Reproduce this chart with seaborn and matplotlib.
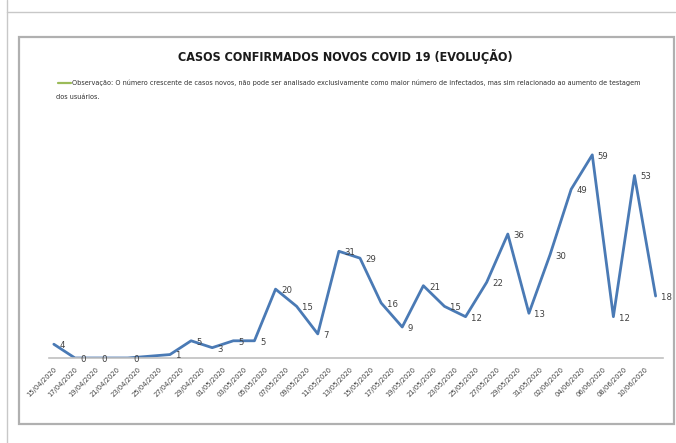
import pandas as pd
import numpy as np
import matplotlib.pyplot as plt
from matplotlib.lines import Line2D
from matplotlib.patches import Rectangle
import seaborn as sns

# dados
datas = ["15/04/2020", "17/04/2020", "19/04/2020", "22/04/2020", "26/04/2020",
         "28/04/2020", "30/04/2020", "02/05/2020", "04/05/2020", "06/05/2020",
         "08/05/2020", "10/05/2020", "12/05/2020", "14/05/2020", "16/05/2020",
         "18/05/2020", "20/05/2020", "22/05/2020", "24/05/2020", "26/05/2020",
         "28/05/2020", "30/05/2020", "01/06/2020", "03/06/2020", "05/06/2020",
         "07/06/2020", "09/06/2020", "11/06/2020"]
casos = [4, 0, 0, 0, 1, 5, 3, 5, 5, 20, 15, 7, 31, 29, 16, 9, 21, 15, 12, 22,
         36, 13, 30, 49, 59, 12, 53, 18]

titulo = "CASOS CONFIRMADOS NOVOS COVID 19 (EVOLUÇÃO)"
obs_1 = ("Observação: O número crescente de casos novos, não pode ser analisado exclusivamente "
         "como maior número de infectados, mas sim relacionado ao aumento de testagem")
obs_2 = "dos usuários."

data = pd.DataFrame({"data": pd.to_datetime(datas, format="%d/%m/%Y"), "casos": casos})

sns.set_style("white")
plt.rcParams['font.family'] = ['DejaVu Sans']
plt.rcParams['font.stretch'] = 'condensed'

W, H = 676, 443
fig = plt.figure(figsize=(W / 100, H / 100), dpi=100)

# molduras
fig.add_artist(Line2D([7 / W, 7 / W], [1, 1 - 12 / H], color="#c8c8c8", lw=1))
fig.add_artist(Line2D([7 / W, 675 / W], [1 - 12 / H, 1 - 12 / H], color="#c8c8c8", lw=1))
fig.add_artist(Line2D([7 / W, 7 / W], [1 - 12 / H, 0], color="#c8c8c8", lw=1))
fig.add_artist(Rectangle((19 / W, 1 - 424 / H), 655 / W, 387 / H, fill=False,
                         edgecolor="#b0b0b0", lw=1.6))

ax = fig.add_axes([49 / W, 1 - 358 / H, (663 - 49) / W, (358 - 117) / H])
sns.lineplot(data=data, x="data", y="casos", ax=ax, color="#4a7ab5", lw=2.0)

inicio = data["data"].iloc[0]
ax.set_xlim(inicio - pd.Timedelta(hours=11), inicio + pd.Timedelta(days=57.7))
ax.set_ylim(0, 70)

ticks = pd.date_range(inicio, "2020-06-10", freq="2D")
ax.set_xticks(ticks)
ax.set_xticklabels([t.strftime("%d/%m/%Y") for t in ticks], rotation=45,
                   ha="right", va="top", rotation_mode="anchor", fontsize=5.4, color="#404040")
ax.tick_params(axis="x", length=0, pad=6)
ax.set_yticks([])
ax.set_xlabel("")
ax.set_ylabel("")
for s in ["top", "left", "right"]:
    ax.spines[s].set_visible(False)
ax.spines["bottom"].set_color("#c0c0c0")
ax.spines["bottom"].set_linewidth(1.2)
ax.set_facecolor("none")

for d, v in zip(data["data"], data["casos"]):
    ax.annotate(str(v), (d, v), xytext=(4, -1), textcoords="offset points",
                ha="left", va="center", fontsize=6.8, color="#404040")

fig.text(345 / W, 1 - 57 / H, titulo, ha="center", va="center", fontsize=9,
         fontweight="bold", color="#1a1a1a")
fig.add_artist(Line2D([58 / W, 71 / W], [1 - 83 / H, 1 - 83 / H], color="#9bbb59", lw=1.6))
fig.text(72 / W, 1 - 83 / H, obs_1, ha="left", va="center", fontsize=5.2, color="#303030")
fig.text(56 / W, 1 - 97 / H, obs_2, ha="left", va="center", fontsize=5.2, color="#303030")

fig.savefig("out.png", dpi=100)
